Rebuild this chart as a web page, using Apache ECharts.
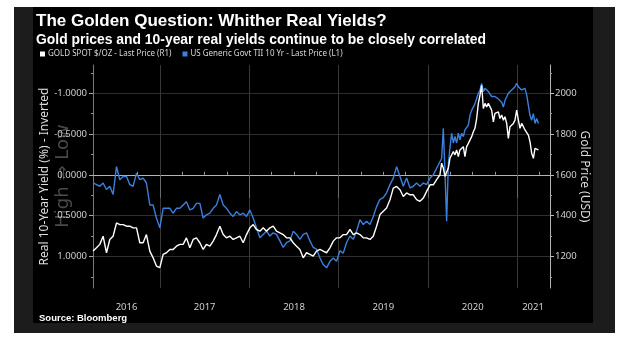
<!DOCTYPE html>
<html><head><meta charset="utf-8">
<script src="https://cdn.jsdelivr.net/npm/echarts@6/dist/echarts.min.js"></script>
<style>
html,body{margin:0;padding:0;background:#fff;width:630px;height:341px;overflow:hidden}
#frame{position:absolute;left:14px;top:7px;width:601px;height:326px;background:#1c1c1c}
#panel{position:absolute;left:33px;top:7px;width:560px;height:316px;background:#000}
#chart{position:absolute;left:0;top:0;width:630px;height:341px}
</style></head><body>
<div id="frame"></div><div id="panel"></div><div id="chart"></div>
<script>
const TITLE = 'The Golden Question: Whither Real Yields?';
const SUBTITLE = 'Gold prices and 10-year real yields continue to be closely correlated';
const SOURCE = 'Source: Bloomberg';
const GOLD_NAME = 'GOLD SPOT $/OZ - Last Price (R1)';
const YIELD_NAME = 'US Generic Govt TII 10 Yr - Last Price (L1)';
const LEFT_AXIS_NAME = 'Real 10-Year Yield (%) - Inverted';
const RIGHT_AXIS_NAME = 'Gold Price (USD)';
const WATERMARK = 'High \u21D2 Low';

// decimal-year dates of the sampled points
const dates = [
 2016.251,2016.289,2016.326,2016.363,2016.401,2016.438,2016.475,2016.513,2016.550,2016.587,
 2016.625,2016.662,2016.699,2016.737,2016.774,2016.811,2016.848,2016.886,2016.923,2016.960,
 2016.998,2017.035,2017.072,2017.110,2017.147,2017.184,2017.222,2017.259,2017.296,2017.334,
 2017.371,2017.408,2017.446,2017.483,2017.520,
 2017.558,2017.595,2017.632,2017.670,2017.707,2017.744,2017.782,2017.819,2017.856,2017.894,
 2017.931,2017.968,2018.006,2018.043,2018.080,2018.118,2018.155,2018.192,2018.230,2018.267,
 2018.304,2018.342,2018.379,2018.416,2018.454,2018.491,2018.528,2018.566,2018.603,2018.640,
 2018.678,2018.715,2018.752,2018.790,2018.827,
 2018.864,2018.902,2018.939,2018.976,2019.014,2019.051,2019.088,2019.126,2019.163,2019.200,
 2019.238,2019.275,2019.312,2019.350,2019.387,2019.424,2019.462,2019.499,2019.536,2019.574,
 2019.611,2019.648,2019.686,2019.723,2019.760,2019.798,2019.835,2019.872,2019.910,2019.947,
 2019.984,2020.022,2020.059,2020.096,
 2020.133,2020.152,2020.171,2020.189,2020.208,2020.227,2020.245,2020.264,2020.283,2020.301,
 2020.320,2020.339,2020.357,2020.376,2020.395,2020.413,2020.432,2020.451,2020.469,2020.488,
 2020.507,2020.525,2020.544,2020.563,2020.581,2020.600,2020.619,2020.637,2020.656,2020.675,
 2020.693,2020.712,2020.731,2020.749,2020.768,2020.787,2020.805,2020.824,2020.843,2020.861,
 2020.880,2020.899,2020.917,2020.936,2020.955,2020.973,2020.992,2021.011,2021.029,2021.048,
 2021.067,2021.085,2021.104,2021.123,2021.141,2021.160,2021.179,2021.197,2021.216,2021.235
];

// US Generic Govt TII 10 Yr (%), plotted on the inverted left axis
const realYield = [
 0.10,0.12,0.14,0.10,0.18,0.14,0.24,-0.10,0.06,0.02,
 0.02,0.12,0.14,-0.02,0.06,0.04,0.10,0.37,0.37,0.53,
 0.65,0.41,0.41,0.41,0.47,0.41,0.41,0.37,0.33,0.43,
 0.41,0.35,0.35,0.53,0.49,
 0.47,0.41,0.37,0.24,0.37,0.41,0.47,0.51,0.45,0.49,
 0.47,0.51,0.43,0.53,0.65,0.77,0.73,0.69,0.75,0.71,
 0.73,0.81,0.89,0.83,0.81,0.69,0.73,0.79,0.73,0.71,
 0.81,0.89,0.91,1.02,1.10,
 1.14,1.06,1.02,1.06,0.93,0.96,0.83,0.75,0.79,0.69,
 0.55,0.61,0.57,0.61,0.51,0.39,0.30,0.28,0.22,0.12,
 0.04,-0.10,0.02,0.14,0.04,0.16,0.14,0.10,0.14,0.10,
 0.12,0.04,0.00,-0.08,
 -0.16,-0.20,-0.57,-0.04,0.57,-0.12,-0.33,-0.51,-0.39,-0.47,
 -0.39,-0.51,-0.43,-0.51,-0.47,-0.55,-0.53,-0.61,-0.73,-0.79,
 -0.81,-0.87,-0.89,-1.00,-1.04,-1.12,-1.02,-1.06,-1.08,-1.02,
 -1.00,-0.96,-0.98,-0.96,-0.98,-0.93,-0.91,-0.89,-0.83,-0.91,
 -0.93,-1.00,-1.02,-1.04,-1.06,-1.08,-1.12,-1.08,-1.06,-1.04,
 -1.02,-1.06,-0.98,-0.85,-0.73,-0.67,-0.75,-0.63,-0.69,-0.63
];

// GOLD SPOT $/oz, right axis
const goldPrice = [
 1226,1242,1259,1299,1218,1283,1299,1364,1356,1356,
 1348,1348,1340,1340,1267,1267,1307,1226,1193,1153,
 1145,1210,1218,1234,1234,1250,1259,1259,1291,1242,
 1283,1291,1267,1234,1259,
 1250,1275,1307,1348,1307,1291,1299,1283,1291,1299,
 1267,1307,1340,1356,1332,1324,1340,1324,1340,1348,
 1324,1315,1307,1291,1291,1267,1250,1234,1193,1218,
 1210,1202,1226,1234,1226,
 1218,1242,1275,1291,1291,1307,1307,1332,1307,1315,
 1307,1291,1291,1283,1299,1348,1405,1421,1437,1478,
 1535,1543,1527,1494,1511,1502,1502,1478,1470,1486,
 1519,1551,1551,1576,
 1600,1657,1633,1592,1584,1633,1681,1689,1714,1698,
 1722,1689,1722,1714,1738,1689,1738,1754,1763,1787,
 1811,1828,1876,1950,1990,2039,1925,1950,1933,1950,
 1941,1917,1860,1901,1893,1909,1876,1893,1868,1885,
 1852,1779,1836,1828,1852,1868,1917,1868,1828,1852,
 1836,1820,1820,1795,1763,1706,1681,1730,1738,1722
];

const yieldTicks = [-1, -0.5, 0, 0.5, 1];
const yieldMinorTicks = [-1.25, -0.75, -0.25, 0.25, 0.75, 1.25];
const goldTicks = [1200, 1400, 1600, 1800, 2000];
const goldMinorTicks = [1100, 1300, 1500, 1700, 1900, 2100];
const yearBounds = [2017, 2018, 2019, 2020, 2021];
const yearLabelPos = [2016.625, 2017.5, 2018.5, 2019.5, 2020.5, 2021.175];
const quarterTicks = [2016.5, 2016.75, 2017.25, 2017.5, 2017.75, 2018.25, 2018.5, 2018.75,
  2019.25, 2019.5, 2019.75, 2020.25, 2020.5, 2020.75, 2021.25];

const X_MIN = 2016.25, X_MAX = 2021.365;
const Y_MIN = -1.346, Y_MAX = 1.387;      // inverted yield axis
const G_MIN = 1045.2, G_MAX = 2138.4;     // gold axis aligned with yield axis

const LBL = '"Noto Sans", "Open Sans", sans-serif';
const BOLD = '"Liberation Sans", Arial, sans-serif';
const BLUE = '#3a80de';

const chart = echarts.init(document.getElementById('chart'), null, {renderer: 'canvas'});
chart.setOption({
  backgroundColor: 'transparent',
  animation: false,
  title: [
    { text: TITLE, subtext: SUBTITLE, left: 36, top: 13, padding: 0, itemGap: 3,
      textStyle: { color: '#fff', fontSize: 17, fontWeight: 'bold', fontFamily: BOLD },
      subtextStyle: { color: '#fff', fontSize: 13.9, fontWeight: 'bold', fontFamily: BOLD } },
    { text: SOURCE, left: 39, top: 313, padding: 0,
      textStyle: { color: '#fff', fontSize: 9.5, fontWeight: 'bold', fontFamily: BOLD } }
  ],
  legend: {
    data: [GOLD_NAME, YIELD_NAME], left: 40, top: 50, padding: 0,
    icon: 'rect', itemWidth: 5, itemHeight: 5, itemGap: 11, selectedMode: false,
    textStyle: { color: '#d8d8d8', fontSize: 8, fontFamily: LBL, padding: [0, 0, 0, -2] }
  },
  grid: { left: 93, right: 80, top: 65, bottom: 53, containLabel: false, outerBoundsMode: 'none' },
  graphic: [
    { type: 'text', x: 63, y: 176, rotation: Math.PI / 2, silent: true, z: 0,
      style: { text: WATERMARK, fill: '#4a4a4a', fontSize: 18, fontFamily: '"DejaVu Sans", sans-serif', align: 'center', verticalAlign: 'middle' } }
  ],
  xAxis: [
    { type: 'value', min: X_MIN, max: X_MAX, position: 'bottom',
      axisLine: { show: true, lineStyle: { color: '#b5b5b5', width: 1 } },
      axisTick: { show: true, customValues: yearBounds, length: 23, lineStyle: { color: '#6a6a6a' } },
      axisLabel: { show: true, customValues: yearLabelPos, formatter: v => String(Math.floor(v)),
        color: '#cfcfcf', fontSize: 9.5, fontFamily: LBL, margin: 14 },
      splitLine: { show: true, lineStyle: { color: '#383838', width: 1 } } },
    { type: 'value', min: X_MIN, max: X_MAX, position: 'bottom',
      axisLine: { show: false },
      axisTick: { show: true, customValues: quarterTicks, inside: true, length: 3, lineStyle: { color: '#9a9a9a' } },
      axisLabel: { show: false }, splitLine: { show: false } }
  ],
  yAxis: [
    { type: 'value', inverse: true, min: Y_MIN, max: Y_MAX, position: 'left',
      name: LEFT_AXIS_NAME, nameLocation: 'middle', nameGap: 42, nameMoveOverlap: false,
      nameTextStyle: { color: '#dcdcdc', fontSize: 12, fontFamily: LBL },
      axisLine: { show: true, lineStyle: { color: '#7a7a7a' } },
      axisTick: { show: true, customValues: yieldTicks, length: 4, lineStyle: { color: '#aaa' } },
      axisLabel: { show: true, customValues: yieldTicks, formatter: v => v.toFixed(4),
        color: '#cfcfcf', fontSize: 9.5, fontFamily: LBL, margin: 6 },
      splitLine: { show: true, lineStyle: { color: '#2e2e2e', width: 1 } } },
    { type: 'value', min: G_MIN, max: G_MAX, position: 'right',
      name: RIGHT_AXIS_NAME, nameLocation: 'middle', nameGap: 28, nameRotate: -90, nameMoveOverlap: false,
      nameTextStyle: { color: '#dcdcdc', fontSize: 12, fontFamily: LBL },
      axisLine: { show: true, lineStyle: { color: '#b5b5b5' } },
      axisTick: { show: true, customValues: goldTicks, length: 4, lineStyle: { color: '#bbb' } },
      axisLabel: { show: true, customValues: goldTicks, formatter: v => String(v),
        color: '#cfcfcf', fontSize: 9.5, fontFamily: LBL, margin: 5 },
      splitLine: { show: false } },
    { type: 'value', inverse: true, min: Y_MIN, max: Y_MAX, position: 'left',
      axisLine: { show: false },
      axisTick: { show: true, customValues: yieldMinorTicks, length: 2, lineStyle: { color: '#999' } },
      axisLabel: { show: false }, splitLine: { show: false } },
    { type: 'value', min: G_MIN, max: G_MAX, position: 'right',
      axisLine: { show: false },
      axisTick: { show: true, customValues: goldMinorTicks, length: 2, lineStyle: { color: '#999' } },
      axisLabel: { show: false }, splitLine: { show: false } }
  ],
  series: [
    { name: YIELD_NAME, type: 'line', xAxisIndex: 0, yAxisIndex: 0, symbol: 'none', showSymbol: false,
      data: dates.map((d, i) => [d, realYield[i]]),
      lineStyle: { color: BLUE, width: 1.4 }, itemStyle: { color: BLUE }, z: 2 },
    { name: GOLD_NAME, type: 'line', xAxisIndex: 0, yAxisIndex: 1, symbol: 'none', showSymbol: false,
      data: dates.map((d, i) => [d, goldPrice[i]]),
      lineStyle: { color: '#ffffff', width: 1.4 }, itemStyle: { color: '#ffffff' }, z: 3 }
  ]
});
</script></body></html>
